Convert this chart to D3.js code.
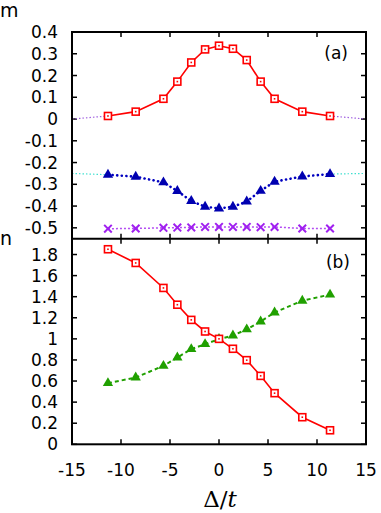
<!DOCTYPE html>
<html><head><meta charset="utf-8">
<script src="https://cdn.jsdelivr.net/npm/d3@7"></script>
<style>
html,body{margin:0;padding:0;background:#fff;}
svg text{font-family:"DejaVu Sans",sans-serif;}
</style></head>
<body><svg id="c" width="381" height="513"></svg>
<script>
// ---- data ----
const deltaT = [-11.33, -8.5, -5.67, -4.25, -2.83, -1.42, 0, 1.42, 2.83, 4.25, 5.67, 8.5, 11.33];
const mRed    = [0.014, 0.034, 0.093, 0.172, 0.26, 0.32, 0.337, 0.323, 0.271, 0.172, 0.093, 0.034, 0.014];
const mBlue   = [-0.256, -0.265, -0.291, -0.331, -0.377, -0.403, -0.411, -0.403, -0.379, -0.33, -0.288, -0.264, -0.253];
const mPurple = [-0.504, -0.503, -0.5, -0.499, -0.498, -0.496, -0.496, -0.496, -0.496, -0.497, -0.496, -0.503, -0.503];
const nRed    = [1.85, 1.72, 1.483, 1.324, 1.18, 1.07, 1.0, 0.906, 0.798, 0.649, 0.485, 0.257, 0.133];
const nGreen  = [0.58, 0.633, 0.744, 0.823, 0.903, 0.95, 0.998, 1.032, 1.09, 1.165, 1.25, 1.362, 1.42];
const asymM0  = [[-15, 0], [-11.33, 0.014], null, [11.33, 0.014], [15, 0]];
const asymM25 = [[-15, -0.25], [-11.33, -0.256], null, [11.33, -0.253], [15, -0.25]];
const xTicks  = [-15, -10, -5, 0, 5, 10, 15];
const mTicks  = [-0.5, -0.4, -0.3, -0.2, -0.1, 0, 0.1, 0.2, 0.3, 0.4];
const nTicks  = [0, 0.2, 0.4, 0.6, 0.8, 1, 1.2, 1.4, 1.6, 1.8];

const svg = d3.select("#c");
const L = 72, R = 366, T = 32, MID = 238.7, B = 444.3;
const x = d3.scaleLinear().domain([-15, 15]).range([L, R]);
const yA = d3.scaleLinear().domain([-0.55, 0.4]).range([MID, T]);
const yB = d3.scaleLinear().domain([0, 1.95]).range([B, MID]);
const FS = 17, TL = 5;

function fmt(v){ return (Math.round(v*10)/10).toString(); }

function panel(y, ticks){
  const g = svg.append("g");
  ticks.forEach(t => {
    const yy = y(t);
    g.append("line").attr("x1", L).attr("x2", L+TL).attr("y1", yy).attr("y2", yy).attr("stroke","#000").attr("stroke-width",1.5);
    g.append("line").attr("x1", R).attr("x2", R-TL).attr("y1", yy).attr("y2", yy).attr("stroke","#000").attr("stroke-width",1.5);
    g.append("text").attr("x", L-14).attr("y", yy+6).attr("text-anchor","end").attr("font-size",FS).text(fmt(t));
  });
  const [y0, y1] = y.range();
  xTicks.forEach(t => {
    const xx = x(t);
    g.append("line").attr("x1", xx).attr("x2", xx).attr("y1", y0).attr("y2", y0-TL).attr("stroke","#000").attr("stroke-width",1.5);
    g.append("line").attr("x1", xx).attr("x2", xx).attr("y1", y1).attr("y2", y1+TL).attr("stroke","#000").attr("stroke-width",1.5);
  });
  return g;
}
panel(yA, mTicks);
panel(yB, nTicks);

xTicks.forEach(t => {
  svg.append("text").attr("x", x(t)).attr("y", 476).attr("text-anchor","middle").attr("font-size",FS).text(t);
});

function series(y, xs, ys, color, dash, width, opacity, cap){
  const line = d3.line().x(d => x(d[0])).y(d => y(d[1]));
  svg.append("path").datum(xs.map((v,i)=>[v, ys[i]])).attr("d", line)
    .attr("fill","none").attr("stroke", color).attr("stroke-width", width)
    .attr("stroke-dasharray", dash).attr("opacity", opacity||1).attr("stroke-linecap", cap||"butt");
}
function asym(y, pts, color){
  const line = d3.line().defined(d => d !== null).x(d => x(d[0])).y(d => y(d[1]));
  svg.append("path").datum(pts).attr("d", line).attr("fill","none")
    .attr("stroke", color).attr("stroke-width", 1.2).attr("stroke-dasharray","1.5,2");
}
function squares(y, xs, ys, color){
  xs.forEach((v,i) => {
    const cx = x(v), cy = y(ys[i]);
    svg.append("rect").attr("x", cx-3.5).attr("y", cy-3.5).attr("width",7).attr("height",7)
      .attr("fill","#fff").attr("stroke",color).attr("stroke-width",1.6);
    svg.append("rect").attr("x", cx-0.8).attr("y", cy-0.8).attr("width",1.6).attr("height",1.6).attr("fill",color);
  });
}
function triangles(y, xs, ys, color){
  const tri = d3.symbol().type(d3.symbolTriangle).size(46);
  xs.forEach((v,i) => {
    svg.append("path").attr("d", tri()).attr("transform", `translate(${x(v)},${y(ys[i])})`).attr("fill", color);
  });
}
function crosses(y, xs, ys, color){
  xs.forEach((v,i) => {
    const cx = x(v), cy = y(ys[i]), s = 3.8;
    svg.append("path").attr("d", `M${cx-s},${cy-s}L${cx+s},${cy+s}M${cx-s},${cy+s}L${cx+s},${cy-s}`)
      .attr("stroke", color).attr("stroke-width", 2);
  });
}

// panel (a)
asym(yA, asymM0, "#a060e0");
asym(yA, asymM25, "#40e0d0");
series(yA, deltaT, mPurple, "#a020f0", "2,2", 1.5, 0.8);
crosses(yA, deltaT, mPurple, "#a020f0");
series(yA, deltaT, mBlue, "#0000c0", "0.1,4.5", 2.6, 1, "round");
triangles(yA, deltaT, mBlue, "#0000b0");
series(yA, deltaT, mRed, "#ff0000", null, 1.6);
squares(yA, deltaT, mRed, "#ff0000");

// panel (b)
series(yB, deltaT, nGreen, "#20a000", "4,3", 2);
triangles(yB, deltaT, nGreen, "#20a000");
series(yB, deltaT, nRed, "#ff0000", null, 1.6);
squares(yB, deltaT, nRed, "#ff0000");

// frames
svg.append("rect").attr("x", L).attr("y", T).attr("width", R-L).attr("height", B-T)
  .attr("fill","none").attr("stroke","#000").attr("stroke-width",2);
svg.append("line").attr("x1", L).attr("x2", R).attr("y1", MID).attr("y2", MID).attr("stroke","#000").attr("stroke-width",2);

// labels
svg.append("text").attr("x", 0).attr("y", 17).attr("font-size", FS+2).text("m");
svg.append("text").attr("x", 0).attr("y", 245).attr("font-size", FS+2).text("n");
svg.append("text").attr("x", 348).attr("y", 59).attr("text-anchor","end").attr("font-size", FS).text("(a)");
svg.append("text").attr("x", 350).attr("y", 268).attr("text-anchor","end").attr("font-size", FS).text("(b)");
const xl = svg.append("text").attr("x", 220).attr("y", 507).attr("text-anchor","middle")
  .attr("font-size", 23).style("font-family", "'DejaVu Serif', serif");
xl.append("tspan").text("Δ/");
xl.append("tspan").attr("font-style","italic").text("t");
</script></body></html>
